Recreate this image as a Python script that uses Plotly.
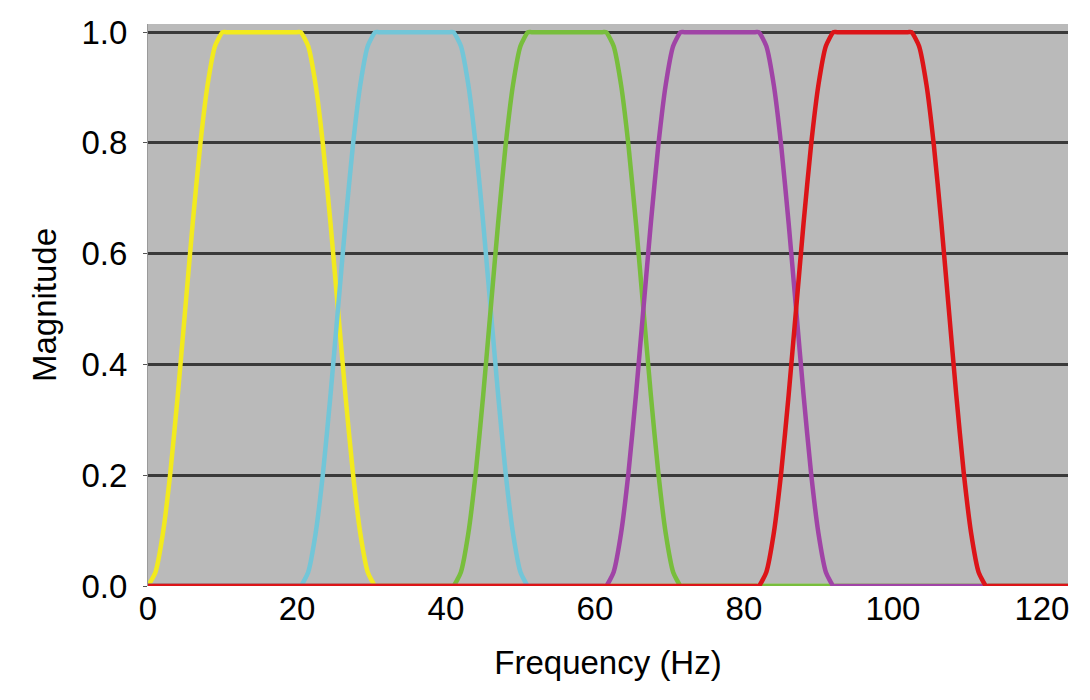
import plotly.graph_objects as go

# band-pass filter responses (Hz, magnitude)
yellow_hz = [0, 1, 2, 3, 4, 5, 6, 7, 8, 9, 10, 10.5,
             20, 20.5, 21.5, 22.5, 23.5, 24.5, 25.5, 26.5, 27.5, 28.5, 29.5, 30.5, 31, 123.5]
yellow_mag = [0, 0.025, 0.095, 0.205, 0.345, 0.5, 0.655, 0.795, 0.905, 0.975, 1, 1,
              1, 1, 0.975, 0.905, 0.795, 0.655, 0.5, 0.345, 0.205, 0.095, 0.025, 0, 0, 0]

blue_hz = [0, 20, 20.5, 21.5, 22.5, 23.5, 24.5, 25.5, 26.5, 27.5, 28.5, 29.5, 30.5, 31,
           40.5, 41, 42, 43, 44, 45, 46, 47, 48, 49, 50, 51, 51.5, 123.5]
blue_mag = [0, 0, 0, 0.025, 0.095, 0.205, 0.345, 0.5, 0.655, 0.795, 0.905, 0.975, 1, 1,
            1, 1, 0.975, 0.905, 0.795, 0.655, 0.5, 0.345, 0.205, 0.095, 0.025, 0, 0, 0]

green_hz = [0, 40.5, 41, 42, 43, 44, 45, 46, 47, 48, 49, 50, 51, 51.5,
            61, 61.5, 62.5, 63.5, 64.5, 65.5, 66.5, 67.5, 68.5, 69.5, 70.5, 71.5, 72, 123.5]
green_mag = [0, 0, 0, 0.025, 0.095, 0.205, 0.345, 0.5, 0.655, 0.795, 0.905, 0.975, 1, 1,
             1, 1, 0.975, 0.905, 0.795, 0.655, 0.5, 0.345, 0.205, 0.095, 0.025, 0, 0, 0]

purple_hz = [0, 61, 61.5, 62.5, 63.5, 64.5, 65.5, 66.5, 67.5, 68.5, 69.5, 70.5, 71.5, 72,
             81.5, 82, 83, 84, 85, 86, 87, 88, 89, 90, 91, 92, 92.5, 123.5]
purple_mag = [0, 0, 0, 0.025, 0.095, 0.205, 0.345, 0.5, 0.655, 0.795, 0.905, 0.975, 1, 1,
              1, 1, 0.975, 0.905, 0.795, 0.655, 0.5, 0.345, 0.205, 0.095, 0.025, 0, 0, 0]

red_hz = [0, 81.5, 82, 83, 84, 85, 86, 87, 88, 89, 90, 91, 92, 92.5,
          102, 102.5, 103.5, 104.5, 105.5, 106.5, 107.5, 108.5, 109.5, 110.5, 111.5, 112.5, 113, 123.5]
red_mag = [0, 0, 0, 0.025, 0.095, 0.205, 0.345, 0.5, 0.655, 0.795, 0.905, 0.975, 1, 1,
           1, 1, 0.975, 0.905, 0.795, 0.655, 0.5, 0.345, 0.205, 0.095, 0.025, 0, 0, 0]

x_ticks = [0, 20, 40, 60, 80, 100, 120]
y_ticks = [0.0, 0.2, 0.4, 0.6, 0.8, 1.0]

series = [
    (yellow_hz, yellow_mag, "#F2EA1E"),
    (blue_hz, blue_mag, "#72C6D8"),
    (green_hz, green_mag, "#78BE3C"),
    (purple_hz, purple_mag, "#A044A6"),
    (red_hz, red_mag, "#DC1418"),
]

fig = go.Figure()
for hz, mag, col in series:
    fig.add_trace(go.Scatter(x=hz, y=mag, mode="lines",
                             line=dict(color=col, width=4.5, shape="spline", smoothing=0.5),
                             showlegend=False, hoverinfo="skip"))

fnt = dict(family="Liberation Sans, Arial, sans-serif", size=33, color="black")

# page body has an 8px margin, so the figure is a bit smaller than the window
fig.update_layout(
    width=1082, height=692,
    margin=dict(l=140, r=22, t=16, b=114),
    paper_bgcolor="white",
    plot_bgcolor="#BABABA",
    font=fnt,
    xaxis=dict(range=[0, 123.5], tickvals=x_ticks, showgrid=False,
               zeroline=False, showline=False, ticks="",
               tickfont=fnt, automargin=False,
               title=dict(text="Frequency (Hz)", font=fnt, standoff=24)),
    yaxis=dict(range=[0, 1.0147], tickvals=y_ticks, tickformat=".1f",
               showgrid=True, gridcolor="#3A3A3A", gridwidth=2.5,
               zeroline=False, showline=True, linecolor="#9A9A9A", linewidth=1,
               ticks="outside", ticklen=4, tickcolor="#555555",
               ticklabelstandoff=9,
               tickfont=fnt, automargin=False,
               title=dict(text="Magnitude", font=fnt, standoff=14)),
)

fig.write_html("out.html")
